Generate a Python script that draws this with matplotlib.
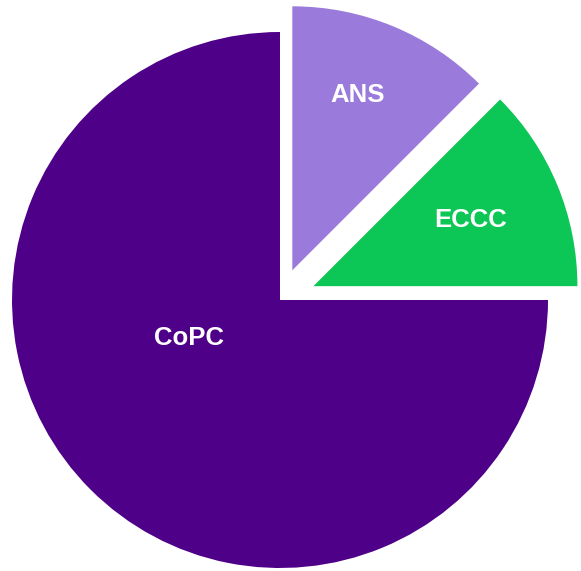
from matplotlib import pyplot as plt

labels = ['CoPC', 'ANS', 'ECCC']
shares = [75, 12.5, 12.5]
colors = ['#4e0088', '#9a7adb', '#0cc655']
explode = [0, 0.12, 0.135]

# label spots, in data units (pie radius = 1)
label_xy = [(-0.34, -0.14), (0.29, 0.765), (0.71, 0.30)]

fig = plt.figure(figsize=(5.81, 5.71), dpi=100)
ax = fig.add_axes([0, 0, 1, 1])

# reversed so CoPC runs 90 -> 360 deg and the small slices sit top-right
wedges, _ = ax.pie(shares[::-1], colors=colors[::-1], explode=explode[::-1],
                   startangle=0, radius=1, wedgeprops={'linewidth': 0})
for w in wedges[:2]:
    w.set_radius(0.985)

for name, (x, y) in zip(labels, label_xy):
    ax.text(x, y, name, color='white', fontsize=18.5, fontweight='bold',
            family=['Liberation Sans', 'DejaVu Sans'],
            ha='center', va='center')

ax.set_xlim(-280 / 268, (581 - 280) / 268)
ax.set_ylim(-(571 - 300) / 268, 300 / 268)
ax.set_aspect('auto')
ax.axis('off')

fig.savefig('out.png', dpi=100, facecolor='white')
